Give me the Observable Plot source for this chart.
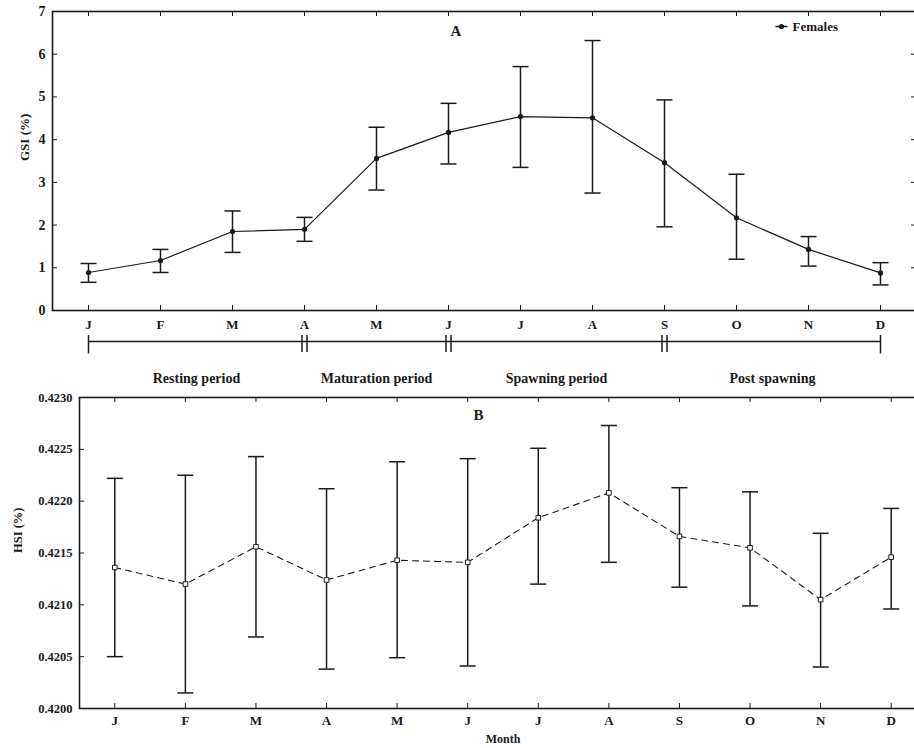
<!DOCTYPE html>
<html><head><meta charset="utf-8">
<script src="https://cdn.jsdelivr.net/npm/d3@7"></script>
<script src="https://cdn.jsdelivr.net/npm/@observablehq/plot@0.6"></script>
<style>
body{margin:0;background:#fff;overflow:hidden;width:914px;height:748px}
#chart{width:930px}
#chart svg{display:block;font-family:"Liberation Serif","Times New Roman",serif}
</style></head><body><div id="chart"></div>
<script>
// ---- data ----
const months = ["J","F","M","A","M","J","J","A","S","O","N","D"];
const gsiMean = [0.89, 1.17, 1.85, 1.90, 3.56, 4.17, 4.54, 4.51, 3.46, 2.17, 1.43, 0.88];
const gsiLow  = [0.66, 0.89, 1.36, 1.62, 2.82, 3.43, 3.35, 2.75, 1.96, 1.20, 1.04, 0.60];
const gsiHigh = [1.10, 1.43, 2.33, 2.18, 4.29, 4.85, 5.71, 6.32, 4.93, 3.19, 1.73, 1.12];
const hsiMean = [0.42136, 0.42120, 0.42156, 0.42124, 0.42143, 0.42141, 0.42184, 0.42208, 0.42166, 0.42155, 0.42105, 0.42146];
const hsiLow  = [0.42050, 0.42015, 0.42069, 0.42038, 0.42049, 0.42041, 0.42120, 0.42141, 0.42117, 0.42099, 0.42040, 0.42096];
const hsiHigh = [0.42222, 0.42225, 0.42243, 0.42212, 0.42238, 0.42241, 0.42251, 0.42273, 0.42213, 0.42209, 0.42169, 0.42193];
const gsiTicks = [0,1,2,3,4,5,6,7];
const hsiTicks = [0.4200,0.4205,0.4210,0.4215,0.4220,0.4225,0.4230];
const periods = ["Resting period","Maturation period","Spawning period","Post spawning"];
const periodBounds = [0,3,5,8,11];
const legendLabel = "Females";

// ---- helpers ----
const idx = d3.range(months.length);
const hline = {draw(ctx, size){const w = Math.sqrt(size/Math.PI); ctx.moveTo(-w,0); ctx.lineTo(w,0);}};
const vline = {draw(ctx, size){const w = Math.sqrt(size/Math.PI); ctx.moveTo(0,-w); ctx.lineTo(0,w);}};
const ink = "#1a1a1a";
const W = 930;
const xScale = {type:"linear", domain:[-0.5, 11.5]};
const bold = {fontWeight:"bold"};

function innerTicks(w, h, yt) {
  const t = 5;
  return [
    Plot.ruleX(idx, {x: d=>d, insetBottom: h - t, stroke: ink}),
    Plot.ruleX(idx, {x: d=>d, insetTop: h - t, stroke: ink}),
    Plot.ruleY(yt, {y: d=>d, insetLeft: w - t, stroke: ink}),
    Plot.ruleY(yt, {y: d=>d, insetRight: w - t, stroke: ink})
  ];
}

// ---- Chart A ----
const mA = {top:11, left:52, right:14, bottom:25};
const hA = 335;
const chartA = Plot.plot({
  width: W, height: hA,
  marginTop: mA.top, marginLeft: mA.left, marginRight: mA.right, marginBottom: mA.bottom,
  style: {fontFamily: "Liberation Serif, serif", background: "#fff"},
  x: {...xScale, axis: null},
  y: {domain: [0,7], axis: null},
  marks: [
    ...innerTicks(W - mA.left - mA.right, hA - mA.top - mA.bottom, gsiTicks),
    Plot.frame({stroke: ink, strokeWidth: 1.6}),
    Plot.axisY({ticks: gsiTicks, tickSize: 0, tickPadding: 7, tickFormat: d=>d, fontSize: 14, fontWeight: "bold", label: null, fill: ink}),
    Plot.axisX({ticks: idx, tickSize: 0, tickPadding: 9, tickFormat: i=>months[i], fontSize: 13, fontWeight: "bold", label: null, fill: ink}),
    Plot.text(["GSI (%)"], {frameAnchor: "left", rotate: -90, dx: -28, fontSize: 13, ...bold, fill: ink}),
    Plot.ruleX(idx, {x: d=>d, y1: i=>gsiLow[i], y2: i=>gsiHigh[i], stroke: ink, strokeWidth: 1.5}),
    Plot.dot(idx, {x: d=>d, y: i=>gsiHigh[i], symbol: hline, r: 8, stroke: ink, strokeWidth: 1.5, fill: "none"}),
    Plot.dot(idx, {x: d=>d, y: i=>gsiLow[i], symbol: hline, r: 8, stroke: ink, strokeWidth: 1.5, fill: "none"}),
    Plot.line(idx, {x: d=>d, y: i=>gsiMean[i], stroke: ink, strokeWidth: 1.2}),
    Plot.dot(idx, {x: d=>d, y: i=>gsiMean[i], r: 2.6, fill: ink, stroke: "none"}),
    Plot.text(["A"], {frameAnchor: "top-left", lineAnchor: "middle", dx: 398, dy: 20, fontSize: 15, ...bold, fill: ink}),
    Plot.dot([legendLabel], {frameAnchor: "top-right", dx: -135, dy: 15, symbol: hline, r: 6, stroke: ink, strokeWidth: 1.5, fill: "none"}),
    Plot.dot([legendLabel], {frameAnchor: "top-right", dx: -135, dy: 15, r: 2.6, fill: ink, stroke: "none"}),
    Plot.text([legendLabel], {frameAnchor: "top-right", lineAnchor: "middle", dx: -124, dy: 15, textAnchor: "start", fontSize: 13, ...bold, fill: ink})
  ]
});

// ---- Period timeline ----
const bars = [];
periodBounds.forEach((b, k) => {
  if (k === 0 || k === periodBounds.length - 1) bars.push({x: b, dx: 0});
  else { bars.push({x: b, dx: -2.5}); bars.push({x: b, dx: 2.5}); }
});
const timeline = Plot.plot({
  width: W, height: 53,
  marginTop: 0, marginBottom: 0, marginLeft: mA.left, marginRight: mA.right,
  style: {fontFamily: "Liberation Serif, serif", background: "#fff"},
  x: {...xScale, axis: null},
  y: {domain: [0,1], range: [6, 43], axis: null},
  marks: [
    Plot.ruleY([0], {x1: periodBounds[0], x2: periodBounds[periodBounds.length-1], stroke: ink, strokeWidth: 1.5}),
    Plot.dot(bars.filter(b=>b.dx===0), {x: "x", y: 0, symbol: vline, r: 12, stroke: ink, strokeWidth: 1.5, fill: "none"}),
    Plot.dot(bars.filter(b=>b.dx<0), {x: "x", y: 0, dx: -2.5, symbol: vline, r: 10.5, stroke: ink, strokeWidth: 1.5, fill: "none"}),
    Plot.dot(bars.filter(b=>b.dx>0), {x: "x", y: 0, dx: 2.5, symbol: vline, r: 10.5, stroke: ink, strokeWidth: 1.5, fill: "none"}),
    Plot.text(periods, {x: (d,i) => (periodBounds[i] + periodBounds[i+1]) / 2, y: 1, text: d=>d, fontSize: 14, ...bold, fill: ink})
  ]
});

// ---- Chart B ----
const mB = {top:9, left:79, right:4, bottom:40};
const hB = 360;
const chartB = Plot.plot({
  width: W, height: hB,
  marginTop: mB.top, marginLeft: mB.left, marginRight: mB.right, marginBottom: mB.bottom,
  style: {fontFamily: "Liberation Serif, serif", background: "#fff"},
  x: {...xScale, axis: null},
  y: {domain: [0.4200, 0.4230], axis: null},
  marks: [
    ...innerTicks(W - mB.left - mB.right, hB - mB.top - mB.bottom, hsiTicks),
    Plot.frame({stroke: ink, strokeWidth: 1.6}),
    Plot.axisY({ticks: hsiTicks, tickSize: 0, tickPadding: 7, tickFormat: d3.format(".4f"), fontSize: 12.5, fontWeight: "bold", label: null, fill: ink}),
    Plot.axisX({ticks: idx, tickSize: 0, tickPadding: 7, tickFormat: i=>months[i], fontSize: 13, fontWeight: "bold", label: null, fill: ink}),
    Plot.text(["HSI (%)"], {frameAnchor: "left", rotate: -90, dx: -62, fontSize: 12.5, ...bold, fill: ink}),
    Plot.text(["Month"], {frameAnchor: "bottom", lineAnchor: "middle", dy: 31, fontSize: 12, ...bold, fill: ink}),
    Plot.ruleX(idx, {x: d=>d, y1: i=>hsiLow[i], y2: i=>hsiHigh[i], stroke: ink, strokeWidth: 1.5}),
    Plot.dot(idx, {x: d=>d, y: i=>hsiHigh[i], symbol: hline, r: 8, stroke: ink, strokeWidth: 1.5, fill: "none"}),
    Plot.dot(idx, {x: d=>d, y: i=>hsiLow[i], symbol: hline, r: 8, stroke: ink, strokeWidth: 1.5, fill: "none"}),
    Plot.line(idx, {x: d=>d, y: i=>hsiMean[i], stroke: ink, strokeWidth: 1.1, strokeDasharray: "6,5"}),
    Plot.dot(idx, {x: d=>d, y: i=>hsiMean[i], symbol: "square", r: 2.6, fill: "#fff", stroke: ink, strokeWidth: 1}),
    Plot.text(["B"], {frameAnchor: "top-left", lineAnchor: "middle", dx: 394, dy: 18, fontSize: 15, ...bold, fill: ink})
  ]
});

const root = document.getElementById("chart");
root.append(chartA, timeline, chartB);
</script></body></html>
